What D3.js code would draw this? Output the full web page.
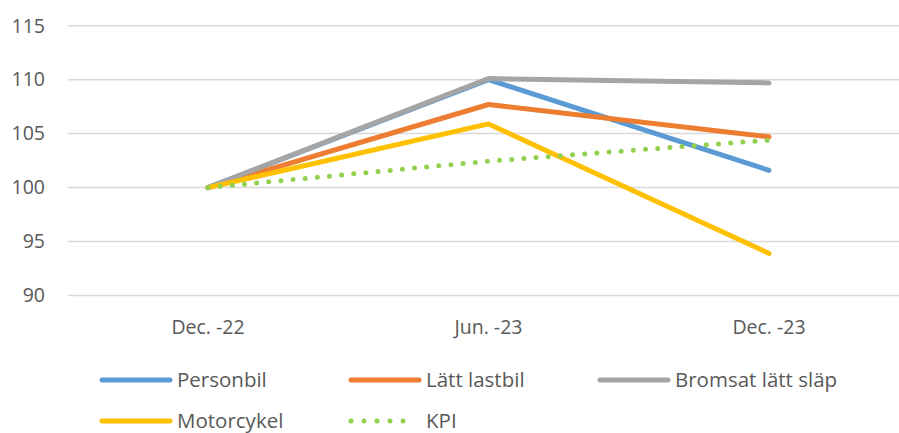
<!DOCTYPE html>
<html>
<head>
<meta charset="utf-8">
<script src="https://cdn.jsdelivr.net/npm/d3@7"></script>
<style>
  body { margin: 0; background: #fff; }
  svg { display: block; font-family: "Open Sans", "Liberation Sans", sans-serif; }
  .grid line { stroke: #d9d9d9; stroke-width: 1.5; }
  .tick-label { fill: #595959; font-size: 19.5px; }
  .legend-label { fill: #595959; font-size: 20.5px; }
</style>
</head>
<body>
<svg id="chart" width="899" height="433"></svg>
<script>
const categories = ["Dec. -22", "Jun. -23", "Dec. -23"];
const yTicks = [90, 95, 100, 105, 110, 115];

const personbil = [100, 110.0, 101.6];
const lattLastbil = [100, 107.7, 104.7];
const bromsat = [100, 110.1, 109.7];
const motorcykel = [100, 105.9, 93.9];
const kpi = [100, 102.45, 104.4];

const series = [
  { name: "Personbil", values: personbil, color: "#5b9bd5", dotted: false },
  { name: "Lätt lastbil", values: lattLastbil, color: "#ed7d31", dotted: false },
  { name: "Bromsat lätt släp", values: bromsat, color: "#a5a5a5", dotted: false },
  { name: "Motorcykel", values: motorcykel, color: "#ffc000", dotted: false },
  { name: "KPI", values: kpi, color: "#92d050", dotted: true }
];

const svg = d3.select("#chart");

const x = d3.scalePoint()
    .domain(categories)
    .range([208, 769]);

const y = d3.scaleLinear()
    .domain([90, 115])
    .range([295.5, 25.7]);

// gridlines
svg.append("g")
    .attr("class", "grid")
    .selectAll("line")
    .data(yTicks)
    .enter().append("line")
    .attr("x1", 68)
    .attr("x2", 899)
    .attr("y1", d => y(d))
    .attr("y2", d => y(d));

// y labels
svg.append("g")
    .selectAll("text")
    .data(yTicks)
    .enter().append("text")
    .attr("class", "tick-label")
    .attr("x", 45)
    .attr("y", d => y(d))
    .attr("dy", "0.35em")
    .attr("text-anchor", "end")
    .text(d => d);

// x labels
svg.append("g")
    .selectAll("text")
    .data(categories)
    .enter().append("text")
    .attr("class", "tick-label")
    .attr("x", d => x(d))
    .attr("y", 334)
    .attr("text-anchor", "middle")
    .text(d => d);

const line = d3.line()
    .x((d, i) => x(categories[i]))
    .y(d => y(d));

svg.append("g")
    .selectAll("path")
    .data(series)
    .enter().append("path")
    .attr("d", d => line(d.values))
    .attr("fill", "none")
    .attr("stroke", d => d.color)
    .attr("stroke-width", 5)
    .attr("stroke-linecap", "round")
    .attr("stroke-linejoin", "round")
    .attr("stroke-dasharray", d => d.dotted ? "0 12.2" : null);

// legend
const legendPos = [
  { x: 100, y: 380 },
  { x: 349, y: 380 },
  { x: 598, y: 380 },
  { x: 100, y: 421 },
  { x: 349, y: 421 }
];

const legend = svg.append("g")
    .selectAll("g")
    .data(series)
    .enter().append("g")
    .attr("transform", (d, i) => `translate(${legendPos[i].x},${legendPos[i].y})`);

legend.append("line")
    .attr("x1", 2)
    .attr("x2", d => d.dotted ? 67 : 70)
    .attr("y1", 0)
    .attr("y2", 0)
    .attr("stroke", d => d.color)
    .attr("stroke-width", 5)
    .attr("stroke-linecap", "round")
    .attr("stroke-dasharray", d => d.dotted ? "0 13" : null);

legend.append("text")
    .attr("class", "legend-label")
    .attr("x", 77)
    .attr("y", 0)
    .attr("dy", "0.36em")
    .text(d => d.name);
</script>
</body>
</html>
